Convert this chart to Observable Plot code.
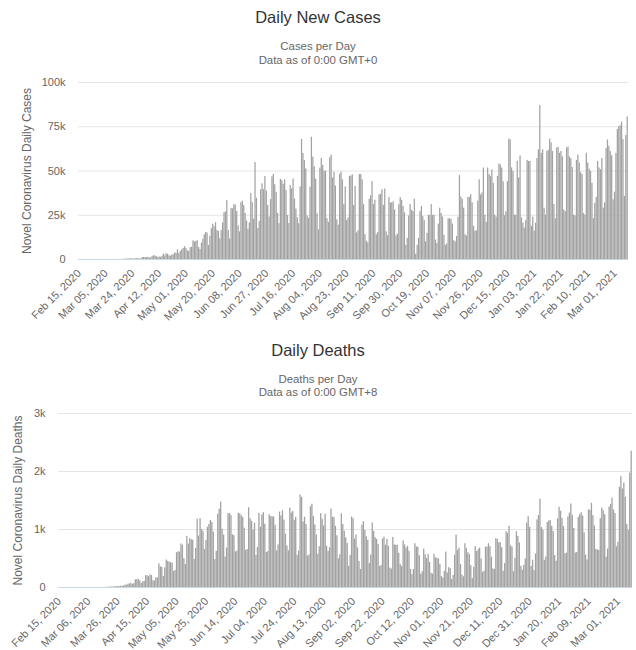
<!DOCTYPE html>
<html><head><meta charset="utf-8">
<script src="https://cdn.jsdelivr.net/npm/d3@7"></script>
<script src="https://cdn.jsdelivr.net/npm/@observablehq/plot@0.6"></script>
<style>
body{margin:0;background:#fff;font-family:"Liberation Sans",Arial,sans-serif;}
#wrap{position:relative;width:636px;height:650px;overflow:hidden;background:#fff;}
.t{position:absolute;left:0;width:636px;text-align:center;color:#333;font-size:16.5px;line-height:20px;}
.s{position:absolute;left:0;width:636px;text-align:center;color:#666;font-size:11.4px;line-height:14px;}
.c{position:absolute;left:0;}
</style></head><body>
<div id="wrap">
  <div class="t" style="top:7px">Daily New Cases</div>
  <div class="s" style="top:39px">Cases per Day</div>
  <div class="s" style="top:53px">Data as of 0:00 GMT+0</div>
  <div class="c" id="cases" style="top:70px"></div>
  <div class="t" style="top:340px">Daily Deaths</div>
  <div class="s" style="top:372px">Deaths per Day</div>
  <div class="s" style="top:385px">Data as of 0:00 GMT+8</div>
  <div class="c" id="deaths" style="top:400px"></div>
</div>
<script>
// first day of both series
const startDate = "2020-02-15";

// Daily new cases, in thousands (rows: Sat..Fri, week starting date in comment)
const newCasesK = [
0,0,0,0,0,0,0, // Feb 15
0,0,0,0,0.001,0,0, // Feb 22
0.001,0,0.001,0,0,0.004,0.005, // Feb 29
0.006,0.006,0.005,0.009,0.018,0.025,0.021, // Mar 7
0.023,0.079,0.034,0.057,0.137,0.193,0.283, // Mar 14
0.224,0.418,0.345,0.31,0.232,0.482,0.502, // Mar 21
0.487,0.352,0.323,1.138,1.119,1.074,1.146, // Mar 28
1.222,0.852,0.926,1.661,2.21,1.93,1.781, // Apr 4
1.089,1.442,1.261,1.832,3.058,2.105,3.257, // Apr 11
2.917,2.055,1.927,2.498,2.678,3.735,3.503, // Apr 18
5.514,3.379,4.613,5.385,6.276,7.218,6.209, // Apr 25
4.97,4.588,6.633,6.935,10.503,9.888,10.222, // May 2
10.611,6.76,5.632,9.258,11.385,13.944,15.305, // May 9
14.919,7.938,13.14,17.408,19.951,18.508,20.803, // May 16
16.508,15.813,11.687,16.324,20.599,26.417,26.928, // May 23
33.274,16.409,11.598,28.936,28.633,30.925,30.83, // May 30
27.075,18.912,15.654,32.091,32.913,30.412,25.982, // Jun 6
21.704,17.11,20.647,37.278,32.188,22.765,54.771, // Jun 13
34.666,17.459,21.432,39.436,42.725,39.483,46.907, // Jun 20
38.693,30.476,24.052,33.846,46.712,48.105,42.223, // Jun 27
37.923,26.051,20.229,45.305,44.571,42.619,45.048, // Jul 4
39.023,24.831,20.286,41.857,39.924,45.403,34.177, // Jul 11
28.532,23.529,20.257,41.008,67.86,59.961,55.891, // Jul 18
51.147,24.578,23.284,40.816,69.074,57.837,52.383, // Jul 25
45.392,25.8,16.641,51.603,57.152,53.139,49.97, // Aug 1
49.9,23,21,57.5,59,46,49.3, // Aug 8
41.5,22.4,19.4,48,49.3,45,31, // Aug 15
41,22,23.4,47,47.1,47.8,30.5, // Aug 22
41.3,15,16.2,48,48,45,30.9, // Aug 29
14,10.3,9.5,34,36,44,31, // Sep 5
33.5,14,15.2,36.5,36.8,39.4,30.5, // Sep 12
39.8,15.6,13.4,35,32,32,32.6, // Sep 19
28,13.3,14.3,31,35,33.4,30, // Sep 26
26.3,8,11.9,24.6,31,27.8,27, // Oct 3
34,3,8,12,27,30,24.2, // Oct 10
22,10,14.7,25,24.8,31,25, // Oct 17
25,11,9,20,29,26,24, // Oct 24
13.7,8,8.8,23,23,22.7,20, // Oct 31
10.6,10,13,23.9,47.4,35.3,34, // Nov 7
29,14,13.2,35,35.1,36.6,32, // Nov 14
18.7,16,16.2,33,45,36.5,37.6, // Nov 21
51.7,25,21,51.7,48,47,50.6, // Nov 28
43,25,24,47,54,53.4,51.7, // Dec 5
43.9,24.7,27,44,68,67.5,51.7, // Dec 12
49.8,25,25,55.5,46,58.5,23.5, // Dec 19
20.5,17.7,22,56,55.4,55.4,18.7, // Dec 26
24,16,20.5,57,62,87,60, // Jan 2
62,29,25,61,61.7,68,66, // Jan 9
61,31,23,63,63.4,60,61, // Jan 16
58,28,27,63,63.6,58,57, // Jan 23
52,25,24.6,56,59,54.5,49, // Jan 30
48,26,25,60,54.5,51,49.8, // Feb 6
43,23,31.7,35,55.4,51.7,50.7, // Feb 13
57,29,32,62.6,67.5,64,61, // Feb 20
58.6,33.7,38,59.9,73.5,75,75.5, // Feb 27
77.6,67.7,35.6,70,80.5 // Mar 6
];

// Daily deaths (rows: Sat..Fri)
const dailyDeaths = [
0,0,0,0,0,0,0, // Feb 15
0,0,0,0,0,0,0, // Feb 22
0,0,0,0,0,0,0, // Feb 29
0,0,0,0,0,0,0, // Mar 7
0,0,0,1,3,3,6, // Mar 14
7,7,9,12,13,18,15, // Mar 21
22,22,27,42,40,58,60, // Mar 28
73,54,67,133,133,141,115, // Apr 4
68,99,105,204,204,188,217, // Apr 11
206,115,113,166,165,407,357, // Apr 18
346,189,338,474,449,435,428, // Apr 25
421,275,296,600,615,610,751, // May 2
730,496,396,881,749,844,824, // May 9
816,485,674,1179,888,1188,1001, // May 16
965,653,807,1039,1086,1156,1124, // May 23
956,480,623,1262,1349,1473,1005, // May 30
904,525,679,1272,1274,1239,909, // Jun 6
892,612,627,1282,1269,1238,1206, // Jun 13
1022,641,654,1374,1185,1141,990, // Jun 20
1109,552,692,1280,1038,1252,1290, // Jun 27
1091,602,620,1254,1223,1220,1214, // Jul 4
1071,631,733,1300,1233,1322,1163, // Jul 11
921,716,632,1367,1284,1311,1156, // Jul 18
1211,555,627,1595,1554,1129,1212, // Jul 25
1088,541,561,1394,1437,1226,1079, // Aug 1
905,572,703,1274,1175,1060,1262, // Aug 8
709,620,684,1352,1212,1204,1054, // Aug 15
892,494,565,1271,1085,970,855, // Aug 22
758,366,553,1215,1184,834,907, // Aug 29
682,447,310,1075,1136,983,874, // Sep 5
814,415,560,1113,967,857,829, // Sep 12
739,363,377,836,869,729,831, // Sep 19
708,335,317,863,733,729,728, // Sep 26
590,399,362,804,734,683,710, // Oct 3
625,313,222,309,754,700,692, // Oct 10
547,230,274,661,566,497,571, // Oct 17
432,242,231,571,510,504,490, // Oct 24
398,190,162,279,611,251,343, // Oct 31
325,139,209,556,905,641,678, // Nov 7
396,214,185,754,670,598,568, // Nov 14
378,154,347,706,620,654,681, // Nov 21
489,263,282,696,697,755,705, // Nov 28
522,321,313,842,831,770,773, // Dec 5
688,279,414,964,935,1054,717, // Dec 12
698,271,501,961,880,769,366, // Dec 19
297,380,492,1110,1220,1035,362, // Dec 26
470,293,580,1166,1242,1524,1035, // Jan 2
990,469,525,1120,1151,1151,1054, // Jan 9
965,551,452,1183,1383,1316,1192, // Jan 16
1050,584,592,1214,1283,1439,1245, // Jan 23
1018,595,603,1209,1254,1287,1232, // Jan 30
943,560,476,1340,1330,1452,1239, // Feb 6
1060,657,647,639,1185,1367,1324, // Feb 13
1255,523,663,1386,1433,1541,1337, // Feb 20
1275,702,778,1726,1910,1699,1800, // Feb 27
1555,1086,987,1972,2349 // Mar 6
];

const casesYTicks = [0, 25, 50, 75, 100];
const deathsYTicks = [0, 1000, 2000, 3000];
const casesXTicks = ["Feb 15, 2020","Mar 05, 2020","Mar 24, 2020","Apr 12, 2020","May 01, 2020","May 20, 2020","Jun 08, 2020","Jun 27, 2020","Jul 16, 2020","Aug 04, 2020","Aug 23, 2020","Sep 11, 2020","Sep 30, 2020","Oct 19, 2020","Nov 07, 2020","Nov 26, 2020","Dec 15, 2020","Jan 03, 2021","Jan 22, 2021","Feb 10, 2021","Mar 01, 2021"];
const deathsXTicks = ["Feb 15, 2020","Mar 06, 2020","Mar 26, 2020","Apr 15, 2020","May 05, 2020","May 25, 2020","Jun 14, 2020","Jul 04, 2020","Jul 24, 2020","Aug 13, 2020","Sep 02, 2020","Sep 22, 2020","Oct 12, 2020","Nov 01, 2020","Nov 21, 2020","Dec 11, 2020","Dec 31, 2020","Jan 20, 2021","Feb 09, 2021","Mar 01, 2021"];

const fmt = d3.utcFormat("%b %d, %Y");
const t0 = new Date(startDate + "T00:00:00Z");
const days = newCasesK.map((_, i) => fmt(d3.utcDay.offset(t0, i)));
const casesData = days.map((d, i) => ({day: d, v: newCasesK[i]}));
const deathsData = days.map((d, i) => ({day: d, v: dailyDeaths[i]}));

const font = '"Liberation Sans", Arial, sans-serif';
function chart({data, yTicks, yMax, xTicks, yFmt, label, width, height, ml, mr, mt, mb, labelDx}) {
  return Plot.plot({
    width, height, marginLeft: ml, marginRight: mr, marginTop: mt, marginBottom: mb,
    style: {fontFamily: font, fontSize: "11px", color: "#666", background: "transparent"},
    x: {type: "band", domain: days, padding: 0.12, axis: null},
    y: {domain: [0, yMax], axis: null},
    marks: [
      Plot.gridY(yTicks, {stroke: "#e6e6e6", strokeOpacity: 1}),
      Plot.barY(data, {x: "day", y: "v", fill: "#a2a2a2"}),
      Plot.ruleY([0], {stroke: "#ccd6eb"}),
      Plot.axisY(yTicks, {tickSize: 0, tickPadding: 13, tickFormat: yFmt, label: null, fontSize: 11, fill: "#666"}),
      Plot.axisX(xTicks, {tickSize: 0, tickPadding: 12, tickRotate: -45, label: null, fontSize: 11, fill: "#666"}),
      Plot.text([label], {text: d => d, frameAnchor: "left", textAnchor: "middle", dx: labelDx, rotate: -90, fontSize: 12, fill: "#666"})
    ]
  });
}

document.getElementById("cases").append(chart({
  data: casesData, yTicks: casesYTicks, yMax: 100, xTicks: casesXTicks,
  yFmt: d => d === 0 ? "0" : d + "k", label: "Novel Coronavirus Daily Cases",
  width: 636, height: 265, ml: 78, mr: 8, mt: 12, mb: 76, labelDx: -51
}));
document.getElementById("deaths").append(chart({
  data: deathsData, yTicks: deathsYTicks, yMax: 3000, xTicks: deathsXTicks,
  yFmt: d => d === 0 ? "0" : (d / 1000) + "k", label: "Novel Coronavirus Daily Deaths",
  width: 636, height: 250, ml: 58, mr: 4, mt: 13, mb: 63, labelDx: -40
}));
</script>
</body></html>
